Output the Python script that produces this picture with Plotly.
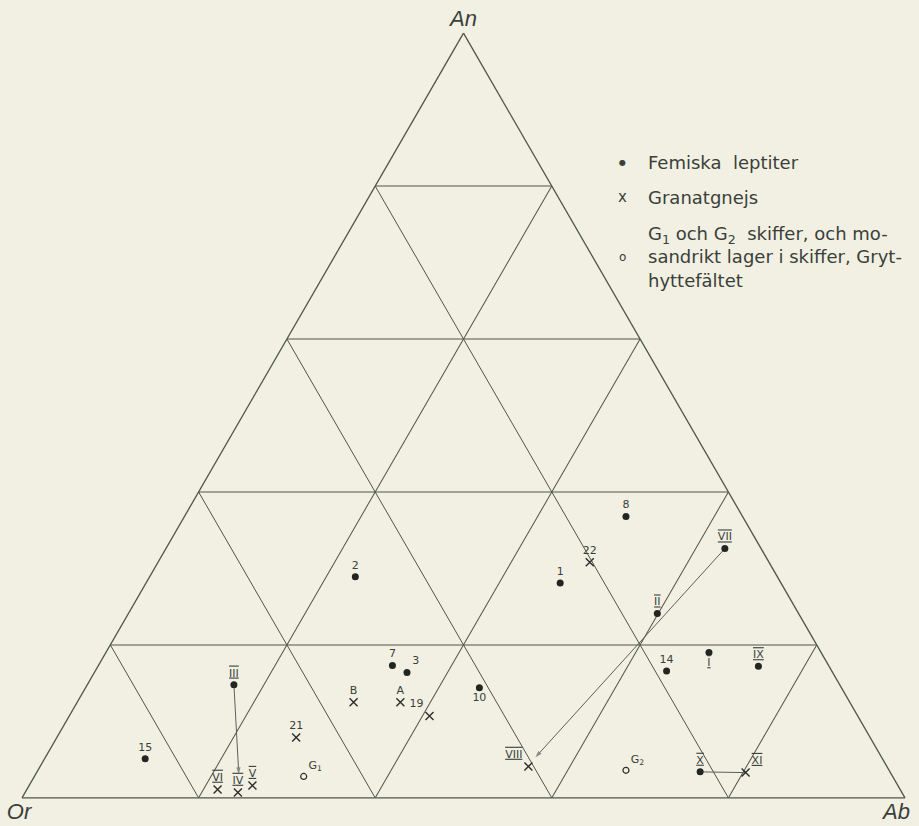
import plotly.graph_objects as go

# Feldspar compositions (mol %): An, Or, Ab
fem_labels = ["15", "III", "7", "3", "2", "1", "8", "II", "VII", "10", "14", "I", "IX", "X"]
fem_an = [5.1, 14.8, 17.3, 16.4, 28.9, 28.1, 36.8, 24.1, 32.6, 14.4, 16.6, 19.0, 17.2, 3.4]
fem_or = [83.5, 68.6, 49.4, 48.2, 47.8, 25.0, 13.2, 16.0, 4.1, 41.0, 18.7, 12.7, 8.0, 21.5]
fem_ab = [11.4, 16.6, 33.3, 35.4, 23.3, 46.9, 50.0, 59.9, 63.3, 44.6, 64.7, 68.3, 74.8, 75.1]
fem_pos = ["top center", "top center", "top center", "top right", "top center", "top center",
           "top center", "top center", "top center", "bottom center", "top center",
           "bottom center", "top center", "top center"]

gr_labels = ["VI", "IV", "V", "21", "B", "A", "19", "22", "VIII", "XI"]
gr_an = [1.1, 0.7, 1.6, 7.9, 12.5, 12.5, 10.7, 30.8, 4.1, 3.3]
gr_or = [77.3, 75.2, 73.1, 65.0, 56.2, 50.9, 48.5, 20.3, 40.6, 16.4]
gr_ab = [21.6, 24.1, 25.3, 27.1, 31.3, 36.6, 40.8, 48.9, 55.3, 80.3]
gr_pos = ["top center", "top center", "top center", "top center", "top center", "top center",
          "top left", "top center", "top left", "top right"]

sk_labels = ["G<sub>1</sub>", "G<sub>2</sub>"]
sk_an = [2.8, 3.6]
sk_or = [66.7, 29.8]
sk_ab = [30.5, 66.6]

# Trend arrows (start -> tip) and the X–XI tie line
arrows = {
    "III-IV": dict(an=[14.8, 3.1], orr=[68.6, 73.9], ab=[16.6, 23.0]),
    "VII-VIII": dict(an=[32.6, 5.3], orr=[4.1, 39.2], ab=[63.3, 55.5]),
}
tie_an = [3.4, 3.3]
tie_or = [21.5, 16.4]
tie_ab = [75.1, 80.3]

W, H = 919, 826
ML, MR, MT, MB = 22, 14, 33, 28
BG = "#f1f0e2"
INK = "#3b3f3a"
GRID = "#4f5549"
FONT = "DejaVu Sans"
CORNER_FONT = dict(family="Liberation Sans", size=22, color=INK)


def roman(s):
    if all(ch in "IVX" for ch in s):
        return '<span style="text-decoration:overline underline">' + s + "</span>"
    return s


fig = go.Figure()

for k, a in arrows.items():
    fig.add_trace(go.Scatterternary(
        a=a["an"], b=a["orr"], c=a["ab"], mode="lines+markers",
        line=dict(color="#5d605a", width=1),
        marker=dict(symbol=["circle", "arrow"], size=[0, 7], angleref="previous",
                    color="#5d605a", line=dict(width=0)),
        hoverinfo="skip", showlegend=False))

fig.add_trace(go.Scatterternary(
    a=tie_an, b=tie_or, c=tie_ab, mode="lines",
    line=dict(color="#5d605a", width=1), hoverinfo="skip", showlegend=False))

fig.add_trace(go.Scatterternary(
    a=fem_an, b=fem_or, c=fem_ab, mode="markers+text",
    text=[roman(t) for t in fem_labels], textposition=fem_pos,
    textfont=dict(family=FONT, size=11, color=INK),
    marker=dict(symbol="circle", size=7, color="#222522"),
    name="Femiska leptiter", showlegend=False))

fig.add_trace(go.Scatterternary(
    a=gr_an, b=gr_or, c=gr_ab, mode="markers+text",
    text=[roman(t) for t in gr_labels], textposition=gr_pos,
    textfont=dict(family=FONT, size=11, color=INK),
    marker=dict(symbol="x-thin", size=8, color="#2b2e2b",
                line=dict(color="#2b2e2b", width=1.4)),
    name="Granatgnejs", showlegend=False))

fig.add_trace(go.Scatterternary(
    a=sk_an, b=sk_or, c=sk_ab, mode="markers+text",
    text=sk_labels, textposition="top right",
    textfont=dict(family=FONT, size=11, color=INK),
    marker=dict(symbol="circle-open", size=6, color="#2b2e2b",
                line=dict(color="#2b2e2b", width=1.2)),
    name="G1 och G2 skiffer", showlegend=False))


def axis_style(title):
    return dict(
        min=0, tickmode="linear", tick0=0, dtick=20,
        showticklabels=False, ticks="", showline=True,
        linecolor=GRID, linewidth=1.3, showgrid=True, gridcolor=GRID, gridwidth=1.1,
        title=dict(text=title, font=CORNER_FONT),
    )


fig.update_layout(
    width=W, height=H, autosize=False,
    margin=dict(l=ML, r=MR, t=MT, b=MB, pad=0),
    paper_bgcolor=BG, plot_bgcolor=BG,
    ternary=dict(sum=100, bgcolor=BG,
                 aaxis=axis_style("<i>An</i>"), baxis=axis_style("<i>Or</i>"),
                 caxis=axis_style("")),
    showlegend=False,
)


def px(x, y):
    """Pixel position on the page -> paper coordinates."""
    return (x - ML) / (W - ML - MR), (H - MB - y) / (H - MT - MB)


def note(x, y, text, size=14, xanchor="left", family=FONT):
    xp, yp = px(x, y)
    fig.add_annotation(
        x=xp, y=yp, xref="paper", yref="paper", text=text, showarrow=False,
        xanchor=xanchor, yanchor="middle", align="left",
        font=dict(family=family, size=size, color=INK),
    )


# Ab corner label sits inside the page edge
note(895, 811, "<i>Ab</i>", size=22, xanchor="center", family="Liberation Sans")

# Key
note(622, 163, "●", size=8, xanchor="center")
note(622, 197, "x", size=15, xanchor="center")
note(622, 257, "o", size=12, xanchor="center")
note(646, 163, "Femiska  leptiter", size=18)
note(646, 197, "Granatgnejs", size=18)
note(646, 257, "G<sub>1</sub> och G<sub>2</sub>  skiffer, och mo-<br>"
               "sandrikt lager i skiffer, Gryt-<br>hyttefältet", size=18)

fig.write_html("out.html")
